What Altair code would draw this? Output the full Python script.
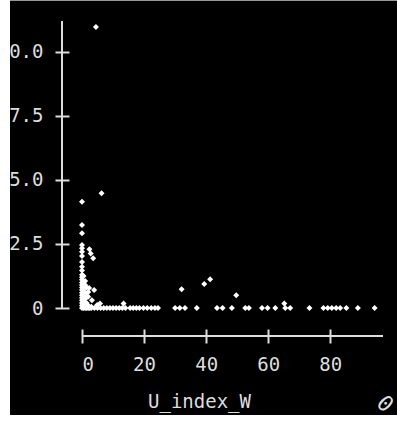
import altair as alt
import pandas as pd

# U_index_W (x) and y values
x_vals = [
    4.5, 0.0, 6.3,
    0.0, 0.0, 0.0, 0.0, 0.0, 0.0, 0.0, 0.0, 0.0, 0.0, 0.0, 0.0, 0.0, 0.0, 0.0, 0.0, 0.0, 0.0, 0.0, 0.0, 0.0, 0.0, 0.0,
    0.5, 0.5, 0.5, 0.5, 0.5, 0.5, 0.5, 0.5, 0.5,
    1.0, 1.0, 1.0, 1.0, 1.0, 1.0, 1.0,
    1.5, 1.5, 1.5, 1.5,
    2.0, 2.0, 2.0, 2.0,
    2.4, 2.8, 3.6, 2.3, 3.9, 3.2, 4.9, 5.8, 13.4, 3.0, 2.5,
    3, 4, 5, 6, 7, 8, 9, 10, 11, 12, 13, 14, 15.5, 16.5, 17.5, 18.5, 19.8, 21, 22.3, 23.5, 24.5,
    30, 31.5, 33.2, 37, 43.5, 45.3, 48.3, 52.6, 53.8, 58, 59.8, 62.3, 65.5, 67.1, 73.3,
    77.8, 79.2, 80.5, 81.9, 83.2, 85.2, 88.9, 94.3,
    32.1, 39.4, 41.3, 49.7, 65.2,
]
y_vals = [
    10.97, 4.15, 4.48,
    3.24, 2.92, 2.46, 2.33, 2.2, 2.03, 1.8, 1.61, 1.46, 1.3, 1.2, 1.1, 1.0, 0.9, 0.8, 0.7, 0.6, 0.5, 0.4, 0.3, 0.2, 0.1, 0.0,
    1.25, 1.0, 0.85, 0.7, 0.55, 0.4, 0.25, 0.1, 0.0,
    1.05, 0.9, 0.6, 0.35, 0.15, 0.05, 0.0,
    0.8, 0.5, 0.2, 0.0,
    0.62, 0.44, 0.1, 0.0,
    2.29, 2.13, 1.94, 0.78, 0.7, 0.3, 0.12, 0.18, 0.18, 0.05, 0.0,
    0, 0, 0, 0, 0, 0, 0, 0, 0, 0, 0, 0, 0, 0, 0, 0, 0, 0, 0, 0, 0,
    0, 0, 0, 0, 0, 0, 0, 0, 0, 0, 0, 0, 0, 0, 0,
    0, 0, 0, 0, 0, 0, 0, 0,
    0.73, 0.94, 1.12, 0.5, 0.18,
]

x_ticks = [0, 20, 40, 60, 80]
y_ticks = [0, 2.5, 5.0, 7.5, 10.0]

df = pd.DataFrame({"U_index_W": x_vals, "y": y_vals})

FONT = "DejaVu Sans Mono"
AX = "#dddddd"
FS = 19
W, H = 301, 287

points = alt.Chart(df).mark_point(
    shape="diamond", filled=True, size=36, color="white", opacity=1
).encode(
    x=alt.X("U_index_W:Q",
            scale=alt.Scale(domain=[0, 97], nice=False, zero=False),
            axis=alt.Axis(values=x_ticks, format="d", domain=False, offset=21,
                          tickSize=14, tickWidth=2, tickColor=AX,
                          labelPadding=12, labelColor=AX, labelFont=FONT, labelFontSize=FS,
                          title="U_index_W", titleFont=FONT, titleFontSize=FS,
                          titleFontWeight="normal", titleColor=AX, titlePadding=18,
                          titleX=117, titleAlign="center", grid=False)),
    y=alt.Y("y:Q",
            scale=alt.Scale(domain=[0, 11.2], nice=False),
            axis=alt.Axis(values=y_ticks, labelExpr="datum.value == 0 ? '0' : format(datum.value, '.1f')",
                          domain=False, offset=13,
                          tickSize=14, tickWidth=2, tickColor=AX,
                          labelPadding=12, labelColor=AX, labelFont=FONT, labelFontSize=FS,
                          title=None, grid=False)),
)

one = alt.Data(values=[{"a": 1}])

y_line = alt.Chart(one).mark_rule(color=AX, strokeWidth=2).encode(
    x=alt.value(-20), y=alt.value(0), y2=alt.value(H + 1)
)
x_line = alt.Chart(one).mark_rule(color=AX, strokeWidth=2).encode(
    x=alt.value(0), x2=alt.value(W), y=alt.value(H + 28)
)
corner = alt.Chart(one).mark_text(
    text="0", angle=45, font=FONT, fontSize=22, color=AX, align="center", baseline="middle"
).encode(x=alt.value(W + 2), y=alt.value(H + 96))

left_strip = alt.Chart(one).mark_rect(color="white").encode(
    x=alt.value(-82), x2=alt.value(-72), y=alt.value(-21), y2=alt.value(H + 117)
)
bottom_strip = alt.Chart(one).mark_rect(color="white").encode(
    x=alt.value(-82), x2=alt.value(W + 14), y=alt.value(H + 107), y2=alt.value(H + 117)
)
top_line = alt.Chart(one).mark_rect(color="#999999").encode(
    x=alt.value(-72), x2=alt.value(W + 14), y=alt.value(-21), y2=alt.value(-20)
)

chart = alt.layer(
    points, y_line, x_line, corner, left_strip, bottom_strip, top_line
).properties(
    width=W, height=H,
    background="black",
    padding={"left": 82, "top": 21, "right": 14, "bottom": 117},
    autosize=alt.AutoSizeParams(type="none"),
).configure_view(stroke=None)

chart.save("out.html", embed_options={"renderer": "svg", "actions": False})
